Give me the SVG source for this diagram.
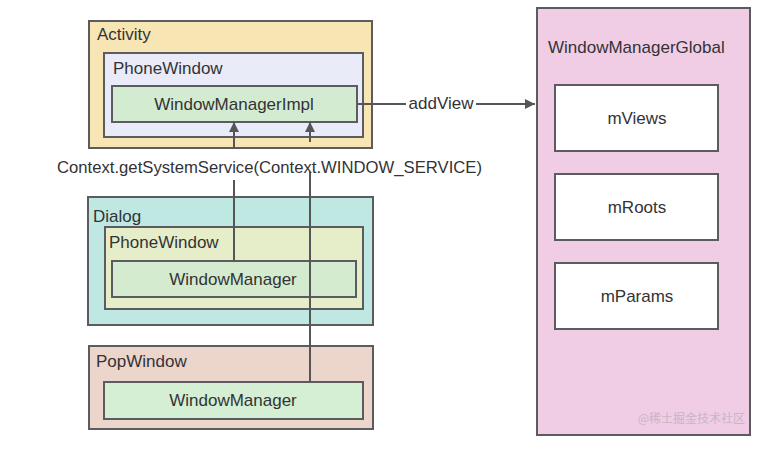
<svg xmlns="http://www.w3.org/2000/svg" width="760" height="451" viewBox="0 0 760 451">
<defs>
<marker id="ah" viewBox="0 0 10 10" refX="10" refY="5" markerWidth="10" markerHeight="10" markerUnits="userSpaceOnUse" orient="auto">
<path d="M0,0 L10,5 L0,10 z" fill="#55555a"/>
</marker>
</defs>
<style>
rect{stroke:#5b5b60;stroke-width:2}
text{font-family:"Liberation Sans",Arial,sans-serif;font-size:17px;fill:#333336}
.c{text-anchor:middle}
.ln{stroke:#55555a;stroke-width:2;fill:none}
</style>
<rect x="0" y="0" width="760" height="451" fill="#ffffff" style="stroke:none"/>
<g id="activity">
<rect x="89" y="21" width="283" height="127" fill="#f7e5b4"/>
<text x="97" y="40">Activity</text>
</g>
<g id="activity-phonewindow">
<rect x="104" y="53" width="259" height="84" fill="#e9ebf8"/>
<text x="113" y="74">PhoneWindow</text>
</g>
<g id="windowmanagerimpl">
<rect x="112" y="86" width="245" height="36" fill="#d3ecd1"/>
<text class="c" x="234" y="110">WindowManagerImpl</text>
</g>
<g id="dialog">
<rect x="88" y="197" width="285" height="128" fill="#c0e8e2"/>
<text x="93" y="222">Dialog</text>
</g>
<g id="dialog-phonewindow">
<rect x="105" y="227" width="258" height="82" fill="#e5edc9"/>
<text x="109" y="248">PhoneWindow</text>
</g>
<g id="dialog-windowmanager">
<rect x="112" y="261" width="244" height="36" fill="#d4ebcf"/>
<text class="c" x="233" y="285">WindowManager</text>
</g>
<g id="popwindow">
<rect x="89" y="346" width="284" height="83" fill="#ecd5cb"/>
<text x="96" y="367">PopWindow</text>
</g>
<g id="popwindow-windowmanager">
<rect x="104" y="382" width="259" height="37" fill="#d4efd3"/>
<text class="c" x="233" y="406">WindowManager</text>
</g>
<g id="windowmanagerglobal">
<rect x="537" y="8" width="213" height="427" fill="#f0cde5"/>
<text x="548" y="53">WindowManagerGlobal</text>
<text x="745" y="423" style="font-size:12px;fill:#c7b5c4;text-anchor:end;font-family:'Noto Sans CJK SC',sans-serif">@稀土掘金技术社区</text>
</g>
<g id="mviews">
<rect x="555" y="85" width="163" height="66" fill="#ffffff"/>
<text class="c" x="637" y="124">mViews</text>
</g>
<g id="mroots">
<rect x="555" y="174" width="163" height="66" fill="#ffffff"/>
<text class="c" x="637" y="213">mRoots</text>
</g>
<g id="mparams">
<rect x="555" y="263" width="163" height="66" fill="#ffffff"/>
<text class="c" x="637" y="302">mParams</text>
</g>
<g id="connectors">
<path class="ln" d="M234,148 L234,122" marker-end="url(#ah)"/>
<path class="ln" d="M234,180 L234,261"/>
<path class="ln" d="M310,142 L310,122" marker-end="url(#ah)"/>
<path class="ln" d="M310,172 L310,382"/>
<path class="ln" d="M357,104 L406,104"/>
<path class="ln" d="M476,104 L535,104" marker-end="url(#ah)"/>
<text class="c" x="441" y="109">addView</text>
<text x="57" y="173" textLength="425" lengthAdjust="spacingAndGlyphs">Context.getSystemService(Context.WINDOW_SERVICE)</text>
</g>
</svg>
